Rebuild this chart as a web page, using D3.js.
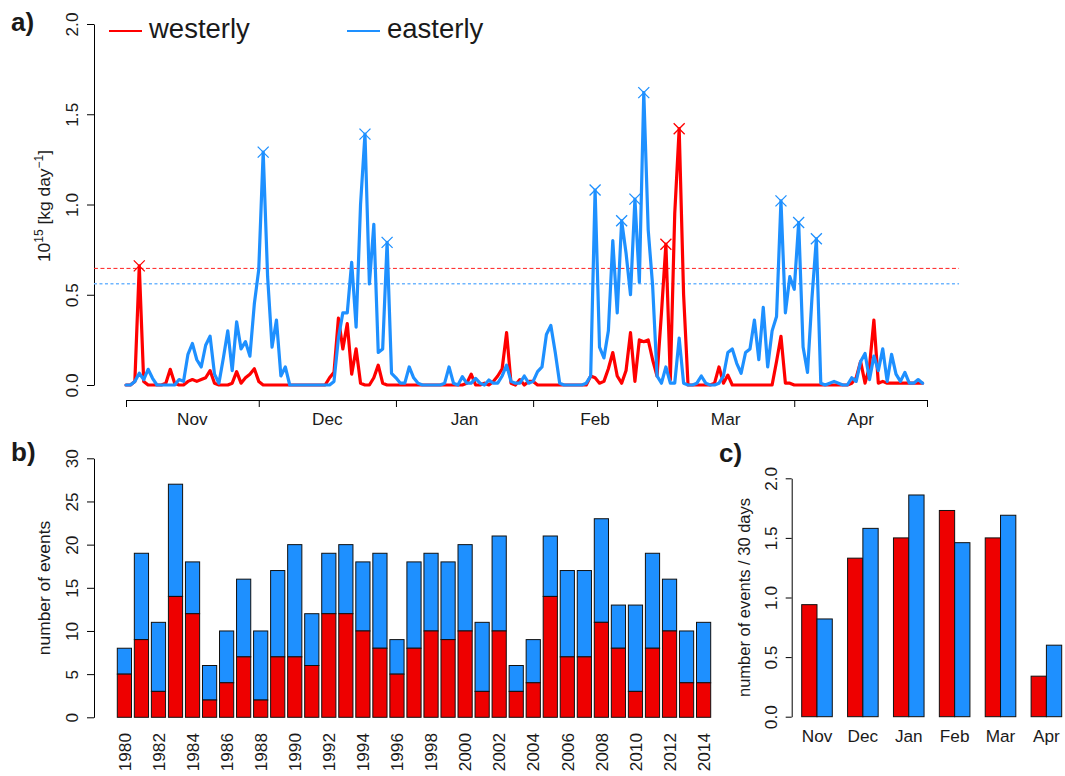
<!DOCTYPE html>
<html>
<head>
<meta charset="utf-8">
<script src="https://cdn.jsdelivr.net/npm/d3@7"></script>
<style>
  html, body { margin: 0; padding: 0; background: #fff; }
  svg { display: block; }
  text { font-family: "Liberation Sans", Arial, Helvetica, sans-serif; fill: #1a1a1a; }
</style>
</head>
<body>
<svg id="chart" width="1065" height="776"></svg>
<script>
// ---------------- DATA ----------------
const seriesNames = ["westerly", "easterly"];
const months = ["Nov", "Dec", "Jan", "Feb", "Mar", "Apr"];
const monthDays = [30, 31, 31, 28, 31, 30];

// panel a: daily moisture transport (10^15 kg/day), 1 Nov .. 30 Apr
const westerlyDaily = [
  0,0,0.02,0.66,0.02,0,0,0,0,0.01,
  0.087,0.01,0,0,0.02,0.03,0.02,0.03,0.04,0.08,
  0.01,0,0,0,0.01,0.074,0.01,0.04,0.06,0.09,
  0.02,0,0,0,0,0,0,0,0,0,
  0,0,0,0,0,0,0.04,0.07,0.37,0.20,
  0.34,0.06,0.20,0.01,0,0,0.04,0.11,0.01,0,
  0,0,0,0,0,0,0,0,0,0,
  0,0,0,0,0,0,0,0.01,0.06,0,
  0,0.01,0,0.02,0.05,0.09,0.29,0.01,0,0.03,
  0,0.02,0.02,0,0,0,0,0,0,0,
  0,0,0,0,0,0.05,0.04,0.01,0.02,0.09,
  0.18,0.05,0.01,0.08,0.29,0.02,0.25,0.24,0.25,0.14,
  0.05,0.40,0.78,0.03,0.95,1.42,0.50,0,0,0,
  0,0,0,0.01,0.10,0.01,0.055,0,0,0,
  0,0,0,0,0,0,0,0.13,0.27,0.01,
  0.01,0,0,0,0,0,0,0,0,0,
  0,0,0,0,0.01,0.04,0.13,0.01,0.10,0.36,
  0.01,0.02,0.01,0.01,0.01,0.01,0.01,0.01,0.01,0.01,
  0.01
];
const easterlyDaily = [
  0,0,0.02,0.065,0.03,0.087,0.037,0,0,0,
  0,0,0.03,0.02,0.17,0.23,0.14,0.10,0.22,0.27,
  0.06,0.01,0.15,0.30,0.08,0.35,0.20,0.24,0.16,0.45,
  0.64,1.29,0.60,0.21,0.36,0.05,0.10,0,0,0,
  0,0,0,0,0,0,0,0.02,0.26,0.40,
  0.40,0.68,0.32,1.00,1.39,0.56,0.89,0.18,0.20,0.79,
  0.065,0.04,0.01,0.01,0.10,0.04,0.01,0,0,0,
  0,0,0.01,0.10,0.01,0,0.046,0.01,0.01,0.037,
  0.01,0,0.028,0.01,0.01,0.05,0.11,0.02,0.01,0.01,
  0.05,0.01,0.02,0.074,0.10,0.28,0.33,0.18,0.01,0,
  0,0,0,0,0.01,0.05,1.08,0.21,0.15,0.30,
  0.80,0.40,0.91,0.73,0.50,1.03,0.57,1.62,0.86,0.55,
  0.05,0.01,0.10,0.01,0.01,0.26,0.01,0,0,0.01,
  0.05,0.01,0,0,0.01,0.05,0.18,0.20,0.12,0.065,
  0.18,0.20,0.36,0.14,0.43,0.10,0.30,0.38,1.02,0.40,
  0.60,0.53,0.90,0.21,0.07,0.48,0.81,0.01,0,0.01,
  0.02,0.01,0,0,0.04,0.02,0.13,0.175,0.03,0.16,
  0.08,0.20,0.02,0.17,0.06,0.02,0.07,0.01,0.01,0.03,
  0.01
];
const westerlyThreshold = 0.646;
const easterlyThreshold = 0.561;
const westerlyEventDays = [3, 122, 125];
const easterlyEventDays = [31, 54, 59, 106, 112, 115, 117, 148, 152, 156];
const yTicksA = [0, 0.5, 1.0, 1.5, 2.0];

// panel b: number of events per season
const years = d3.range(1980, 2015);
const westerlyCounts = [5,9,3,14,12,2,4,7,2,7,7,6,12,12,10,8,5,8,10,9,10,3,10,3,4,14,7,7,11,8,3,8,10,4,4];
const easterlyCounts = [3,10,8,13,6,4,6,9,8,10,13,6,7,8,8,11,4,10,9,9,10,8,11,3,5,7,10,10,12,5,10,11,6,6,7];
const yTicksB = [0, 5, 10, 15, 20, 25, 30];
const yearLabels = years.filter(y => y % 2 === 0);

// panel c: events per 30 days by month
const westerlyRate = [0.94, 1.33, 1.50, 1.73, 1.50, 0.34];
const easterlyRate = [0.82, 1.58, 1.86, 1.46, 1.69, 0.60];
const yTicksC = [0, 0.5, 1.0, 1.5, 2.0];

// ---------------- STYLE ----------------
const lineColors = { westerly: "#FF0000", easterly: "#1E90FF" };
const barColors = { westerly: "#EE0000", easterly: "#1E90FF" };
const tickFont = "17.2px";
const titleFont = "17.4px";

const svg = d3.select("#chart");

function styleLeftAxis(g, offset) {
  g.select(".domain").attr("stroke", "#000").attr("stroke-width", 1);
  g.selectAll(".tick line").attr("stroke", "#000").attr("stroke-width", 1);
  g.selectAll(".tick text")
    .attr("x", null).attr("dy", null)
    .attr("text-anchor", "middle")
    .attr("transform", `translate(${offset},0) rotate(-90)`)
    .style("font-size", tickFont)
    .attr("fill", "#1a1a1a");
  g.attr("font-family", null).attr("font-size", null);
}

// ================= PANEL A =================
const totalDays = d3.sum(monthDays);
const monthStarts = [0, ...d3.cumsum(monthDays)];
const xA = d3.scaleLinear().domain([0, totalDays]).range([126, 927]);
const yA = d3.scaleLinear().domain([0, 2]).range([385, 24]);
const padA = totalDays * 0.04;

const gA = svg.append("g");

const axA = gA.append("g").attr("transform", `translate(94,0)`)
  .call(d3.axisLeft(yA).tickValues(yTicksA).tickFormat(d3.format(".1f")).tickSize(7).tickSizeOuter(0));
styleLeftAxis(axA, -16);

const axAx = gA.append("g").attr("transform", `translate(0,400)`)
  .call(d3.axisBottom(xA).tickValues(monthStarts).tickFormat("").tickSize(7).tickSizeOuter(0));
axAx.select(".domain").attr("stroke", "#000");
axAx.selectAll(".tick line").attr("stroke", "#000");
gA.selectAll(".mlabel").data(months).enter().append("text")
  .attr("x", (d, i) => xA((monthStarts[i] + monthStarts[i + 1]) / 2))
  .attr("y", 425)
  .attr("text-anchor", "middle")
  .style("font-size", tickFont)
  .text(d => d);

gA.append("line")
  .attr("x1", xA(-padA)).attr("x2", xA(totalDays + padA))
  .attr("y1", yA(westerlyThreshold)).attr("y2", yA(westerlyThreshold))
  .attr("stroke", "#FF2020").attr("stroke-width", 1).attr("stroke-dasharray", "4,2.5");
gA.append("line")
  .attr("x1", xA(-padA)).attr("x2", xA(totalDays + padA))
  .attr("y1", yA(easterlyThreshold)).attr("y2", yA(easterlyThreshold))
  .attr("stroke", "#6FB6FF").attr("stroke-width", 1.6).attr("stroke-dasharray", "3,2.5");

const lineGen = d3.line().x((d, i) => xA(i)).y(d => yA(d));
const seriesA = [
  { name: "westerly", values: westerlyDaily, events: westerlyEventDays },
  { name: "easterly", values: easterlyDaily, events: easterlyEventDays }
];
seriesA.forEach(s => {
  gA.append("path")
    .attr("d", lineGen(s.values))
    .attr("fill", "none")
    .attr("stroke", lineColors[s.name])
    .attr("stroke-width", 3.2)
    .attr("stroke-linejoin", "round")
    .attr("stroke-linecap", "round");
});
seriesA.forEach(s => {
  gA.selectAll(null).data(s.events).enter().append("path")
    .attr("transform", d => `translate(${xA(d)},${yA(s.values[d])})`)
    .attr("d", "M-5.5,-5.5L5.5,5.5M-5.5,5.5L5.5,-5.5")
    .attr("stroke", lineColors[s.name])
    .attr("stroke-width", 1.3)
    .attr("fill", "none");
});

const titleA = gA.append("text")
  .attr("transform", "translate(50,206) rotate(-90)")
  .attr("text-anchor", "middle")
  .style("font-size", titleFont);
titleA.append("tspan").text("10");
titleA.append("tspan").attr("baseline-shift", "super").style("font-size", "12px").text("15");
titleA.append("tspan").text(" [kg day");
titleA.append("tspan").attr("baseline-shift", "super").style("font-size", "12px").text("\u22121");
titleA.append("tspan").text("]");

const legendPos = [{ x: 109, tx: 149 }, { x: 347, tx: 387 }];
seriesNames.forEach((n, i) => {
  gA.append("line")
    .attr("x1", legendPos[i].x).attr("x2", legendPos[i].x + 33)
    .attr("y1", 31).attr("y2", 31)
    .attr("stroke", lineColors[n]).attr("stroke-width", 2.2);
  gA.append("text")
    .attr("x", legendPos[i].tx).attr("y", 38)
    .style("font-size", "27.5px")
    .text(n);
});

svg.append("text").attr("x", 11).attr("y", 31).style("font-size", "26px").style("font-weight", "bold").text("a)");

// ================= PANEL B =================
const xB = d3.scaleBand().domain(years).range([117.3, 710.7]).paddingInner(1 / 6).paddingOuter(0);
const yB = d3.scaleLinear().domain([0, 30]).range([717.3, 458.3]);
const gB = svg.append("g");

const axB = gB.append("g").attr("transform", "translate(94,0)")
  .call(d3.axisLeft(yB).tickValues(yTicksB).tickFormat(d3.format("d")).tickSize(7).tickSizeOuter(0));
styleLeftAxis(axB, -16);

const barDataB = years.map((y, i) => ({ year: y, w: westerlyCounts[i], e: easterlyCounts[i] }));
gB.selectAll(".barE").data(barDataB).enter().append("rect")
  .attr("x", d => xB(d.year)).attr("width", xB.bandwidth())
  .attr("y", d => yB(d.w + d.e)).attr("height", d => yB(d.w) - yB(d.w + d.e))
  .attr("fill", barColors.easterly).attr("stroke", "#111").attr("stroke-width", 1);
gB.selectAll(".barW").data(barDataB).enter().append("rect")
  .attr("x", d => xB(d.year)).attr("width", xB.bandwidth())
  .attr("y", d => yB(d.w)).attr("height", d => yB(0) - yB(d.w))
  .attr("fill", barColors.westerly).attr("stroke", "#111").attr("stroke-width", 1);

const axBx = gB.append("g").attr("transform", "translate(0,733)")
  .call(d3.axisBottom(xB).tickValues(yearLabels).tickSize(0));
axBx.select(".domain").remove();
axBx.attr("font-family", null).attr("font-size", null);
axBx.selectAll(".tick text")
  .attr("y", 0).attr("dy", "0.36em")
  .attr("text-anchor", "end")
  .attr("transform", "rotate(-90)")
  .style("font-size", tickFont)
  .attr("fill", "#1a1a1a");

gB.append("text")
  .attr("transform", "translate(50,588) rotate(-90)")
  .attr("text-anchor", "middle")
  .style("font-size", titleFont)
  .text("number of events");

svg.append("text").attr("x", 11).attr("y", 461).style("font-size", "26px").style("font-weight", "bold").text("b)");

// ================= PANEL C =================
const xC = d3.scaleBand().domain(months).range([801.7, 1061.7]).paddingInner(1 / 3).paddingOuter(0);
const xC2 = d3.scaleBand().domain(seriesNames).range([0, xC.bandwidth()]);
const yC = d3.scaleLinear().domain([0, 2]).range([716.7, 478.3]);
const gC = svg.append("g");

const axC = gC.append("g").attr("transform", "translate(791.7,0)")
  .call(d3.axisLeft(yC).tickValues(yTicksC).tickFormat(d3.format(".1f")).tickSize(6).tickSizeOuter(0));
styleLeftAxis(axC, -15);

const barDataC = [];
months.forEach((m, i) => {
  barDataC.push({ month: m, s: "westerly", v: westerlyRate[i] });
  barDataC.push({ month: m, s: "easterly", v: easterlyRate[i] });
});
gC.selectAll(".barC").data(barDataC).enter().append("rect")
  .attr("x", d => xC(d.month) + xC2(d.s)).attr("width", xC2.bandwidth())
  .attr("y", d => yC(d.v)).attr("height", d => yC(0) - yC(d.v))
  .attr("fill", d => barColors[d.s]).attr("stroke", "#111").attr("stroke-width", 1);

const axCx = gC.append("g").attr("transform", "translate(0,717)")
  .call(d3.axisBottom(xC).tickSize(0));
axCx.select(".domain").remove();
axCx.attr("font-family", null).attr("font-size", null);
axCx.selectAll(".tick text").attr("y", 25).attr("dy", null).style("font-size", tickFont).attr("fill", "#1a1a1a");

gC.append("text")
  .attr("transform", "translate(750,597.5) rotate(-90)")
  .attr("text-anchor", "middle")
  .style("font-size", "16.5px")
  .text("number of events / 30 days");

svg.append("text").attr("x", 719).attr("y", 462).style("font-size", "26px").style("font-weight", "bold").text("c)");
</script>
</body>
</html>
